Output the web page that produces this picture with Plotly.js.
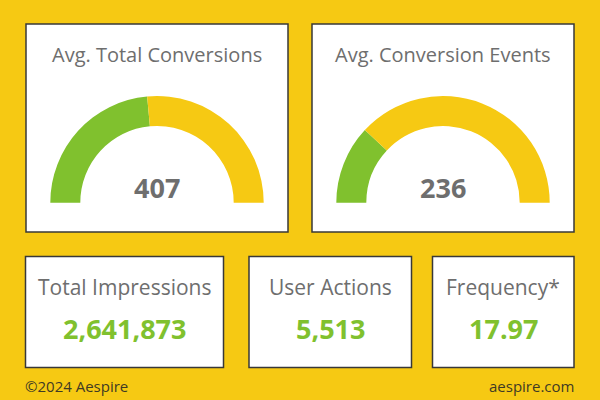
<!DOCTYPE html>
<html>
<head>
<meta charset="utf-8">
<script src="https://cdn.plot.ly/plotly-3.0.1.min.js"></script>
<style>html,body{margin:0;padding:0;background:#F6C913;}#chart{width:600px;height:400px;}</style>
</head>
<body>
<div id="chart"></div>
<script>
// ---- data ----
const gaugeTitles = ['Avg. Total Conversions', 'Avg. Conversion Events'];
const gaugeValues = [407, 236];
const gaugeMax = [865, 990];
const kpiTitles = ['Total Impressions', 'User Actions', 'Frequency*'];
const kpiValues = [2641873, 5513, 17.97];
const kpiDecimals = [0, 0, 2];
const footerLeft = '©2024 Aespire';
const footerRight = 'aespire.com';

// ---- style / layout ----
const W = 600, H = 400;
const YELLOW = '#F6C913', GREEN = '#80C12E', GRAY = '#6e6e6e', BORDER = '#383838';
const FONT = 'Open Sans, Noto Sans, sans-serif';
const px = x => x / W;
const py = y => 1 - y / H;

const topBoxes = [[26, 24, 288, 232], [312, 24, 574, 232]];
const botBoxes = [[25.5, 256.5, 223.5, 367.5], [249, 256.5, 411.5, 367.5], [432.5, 256.5, 574, 367.5]];
const gaugeCenters = [[157, 202.7], [443, 202.7]];
const R = 106.7, RIN = 76.7;

const shapes = [];
topBoxes.concat(botBoxes).forEach(b => {
  shapes.push({type: 'rect', xref: 'paper', yref: 'paper', layer: 'below',
    x0: px(b[0]), x1: px(b[2]), y0: py(b[3]), y1: py(b[1]),
    fillcolor: '#ffffff', line: {color: BORDER, width: 1.5}});
});

const traces = gaugeValues.map((v, i) => {
  const c = gaugeCenters[i];
  return {
    type: 'pie', sort: false, direction: 'clockwise', rotation: -90,
    values: [v, gaugeMax[i] - v, gaugeMax[i]],
    marker: {colors: [GREEN, YELLOW, 'rgba(0,0,0,0)'], line: {width: 0}},
    hole: RIN / R, textinfo: 'none', hoverinfo: 'skip', showlegend: false,
    domain: {x: [px(c[0] - R), px(c[0] + R)], y: [py(c[1] + R), py(c[1] - R)]}
  };
});

const annotations = [];
gaugeTitles.forEach((t, i) => {
  const b = topBoxes[i];
  annotations.push({text: t, x: px((b[0] + b[2]) / 2), y: py(55), xref: 'paper', yref: 'paper',
    xanchor: 'center', yanchor: 'middle', showarrow: false, font: {family: FONT, size: 20, color: GRAY}});
  annotations.push({text: '<b>' + gaugeValues[i].toLocaleString('en-US') + '</b>', x: px(gaugeCenters[i][0]), y: py(187),
    xref: 'paper', yref: 'paper', xanchor: 'center', yanchor: 'middle', showarrow: false,
    font: {family: FONT, size: 27, color: GRAY}});
});
kpiTitles.forEach((t, i) => {
  const b = botBoxes[i];
  const cx = px((b[0] + b[2]) / 2);
  annotations.push({text: t, x: cx, y: py(286.5), xref: 'paper', yref: 'paper',
    xanchor: 'center', yanchor: 'middle', showarrow: false, font: {family: FONT, size: 21, color: GRAY}});
  const s = kpiValues[i].toLocaleString('en-US', {minimumFractionDigits: kpiDecimals[i], maximumFractionDigits: kpiDecimals[i]});
  annotations.push({text: '<b>' + s + '</b>', x: cx, y: py(328), xref: 'paper', yref: 'paper',
    xanchor: 'center', yanchor: 'middle', showarrow: false, font: {family: FONT, size: 27, color: GREEN}});
});
annotations.push({text: footerLeft, x: px(23), y: py(385.5), xref: 'paper', yref: 'paper', xanchor: 'left', yanchor: 'middle',
  showarrow: false, font: {family: FONT, size: 15, color: '#3f3a24'}});
annotations.push({text: footerRight, x: px(576), y: py(385.5), xref: 'paper', yref: 'paper', xanchor: 'right', yanchor: 'middle',
  showarrow: false, font: {family: FONT, size: 15, color: '#3f3a24'}});

const layout = {
  width: W, height: H, margin: {l: 0, r: 0, t: 0, b: 0},
  paper_bgcolor: YELLOW, plot_bgcolor: YELLOW,
  shapes: shapes, annotations: annotations, showlegend: false
};
Plotly.newPlot('chart', traces, layout, {displayModeBar: false, staticPlot: true});
</script>
</body>
</html>
